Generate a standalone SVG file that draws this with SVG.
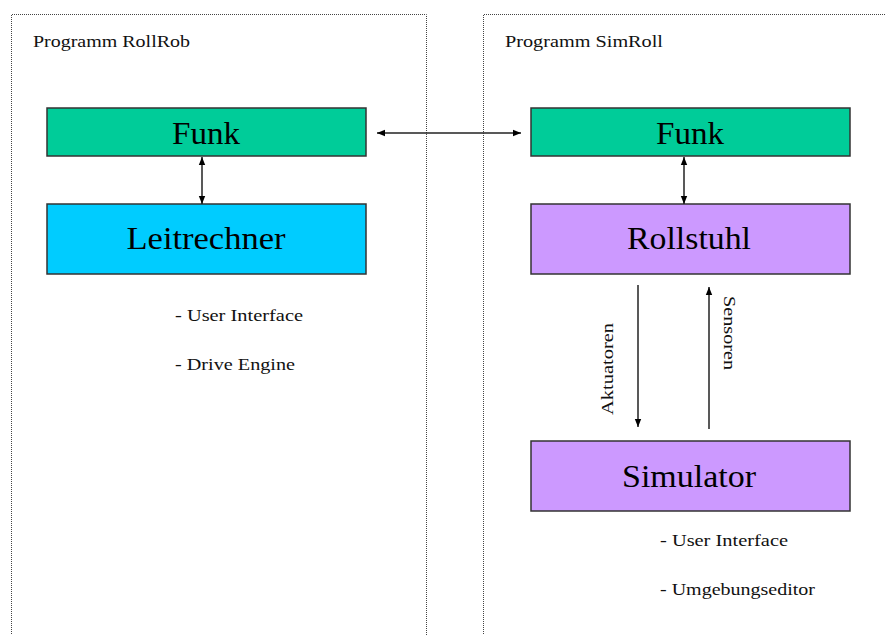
<svg xmlns="http://www.w3.org/2000/svg" width="885" height="635" viewBox="0 0 885 635">
  <style>
    .panel { fill: none; stroke: #444; stroke-width: 1; stroke-dasharray: 1 1; }
    .box { stroke: #333; stroke-width: 1.5; }
    .funk { fill: #00CC99; }
    .leit { fill: #00CCFF; }
    .lila { fill: #CC99FF; }
    .title { font-family: "Liberation Serif", serif; font-size: 32px; fill: #000; text-anchor: middle; }
    .small { font-family: "Liberation Serif", serif; font-size: 17px; fill: #111; }
    .conn line { stroke: #222; stroke-width: 1.5; }
  </style>
  <defs>
    <marker id="ah" viewBox="0 0 10 10" refX="10" refY="5" markerWidth="8" markerHeight="8" orient="auto-start-reverse" markerUnits="userSpaceOnUse">
      <path d="M0,1 L10,5 L0,9 z" fill="#000"/>
    </marker>
  </defs>
  <rect width="885" height="635" fill="#fff"/>

  <!-- program panels -->
  <g id="panel-rollrob">
    <path class="panel" d="M11.5,640 V14.5 H426.5 V640"/>
    <text class="small" x="33" y="47" textLength="157" lengthAdjust="spacingAndGlyphs">Programm RollRob</text>
  </g>
  <g id="panel-simroll">
    <path class="panel" d="M483.5,640 V14.5 H890"/>
    <text class="small" x="505" y="47" textLength="158" lengthAdjust="spacingAndGlyphs">Programm SimRoll</text>
  </g>

  <g id="funk-left">
    <rect class="box funk" x="47" y="108" width="319" height="48"/>
    <text class="title" x="206" y="144" textLength="68" lengthAdjust="spacingAndGlyphs">Funk</text>
  </g>
  <g id="leitrechner">
    <rect class="box leit" x="47" y="204" width="319" height="70"/>
    <text class="title" x="206" y="249" textLength="159" lengthAdjust="spacingAndGlyphs">Leitrechner</text>
    <text class="small" x="175" y="321" textLength="128" lengthAdjust="spacingAndGlyphs">- User Interface</text>
    <text class="small" x="175" y="370" textLength="120" lengthAdjust="spacingAndGlyphs">- Drive Engine</text>
  </g>

  <g id="funk-right">
    <rect class="box funk" x="531" y="108" width="319" height="48"/>
    <text class="title" x="690" y="144" textLength="68" lengthAdjust="spacingAndGlyphs">Funk</text>
  </g>
  <g id="rollstuhl">
    <rect class="box lila" x="531" y="204" width="319" height="70"/>
    <text class="title" x="689" y="249" textLength="124" lengthAdjust="spacingAndGlyphs">Rollstuhl</text>
  </g>
  <g id="simulator">
    <rect class="box lila" x="531" y="441" width="319" height="70"/>
    <text class="title" x="689" y="487" textLength="134" lengthAdjust="spacingAndGlyphs">Simulator</text>
    <text class="small" x="660" y="546" textLength="128" lengthAdjust="spacingAndGlyphs">- User Interface</text>
    <text class="small" x="660" y="595" textLength="155" lengthAdjust="spacingAndGlyphs">- Umgebungseditor</text>
  </g>

  <g class="conn" id="connectors">
    <line x1="377" y1="133" x2="521" y2="133" marker-start="url(#ah)" marker-end="url(#ah)"/>
    <line x1="202" y1="157" x2="202" y2="204" marker-start="url(#ah)" marker-end="url(#ah)"/>
    <line x1="684" y1="157" x2="684" y2="204" marker-start="url(#ah)" marker-end="url(#ah)"/>
    <line x1="638" y1="285" x2="638" y2="427" marker-end="url(#ah)"/>
    <line x1="709" y1="429" x2="709" y2="287" marker-end="url(#ah)"/>
    <text class="small" transform="translate(613,369) rotate(-90)" text-anchor="middle" textLength="92" lengthAdjust="spacingAndGlyphs">Aktuatoren</text>
    <text class="small" transform="translate(724,333) rotate(90)" text-anchor="middle" textLength="74" lengthAdjust="spacingAndGlyphs">Sensoren</text>
  </g>
</svg>
